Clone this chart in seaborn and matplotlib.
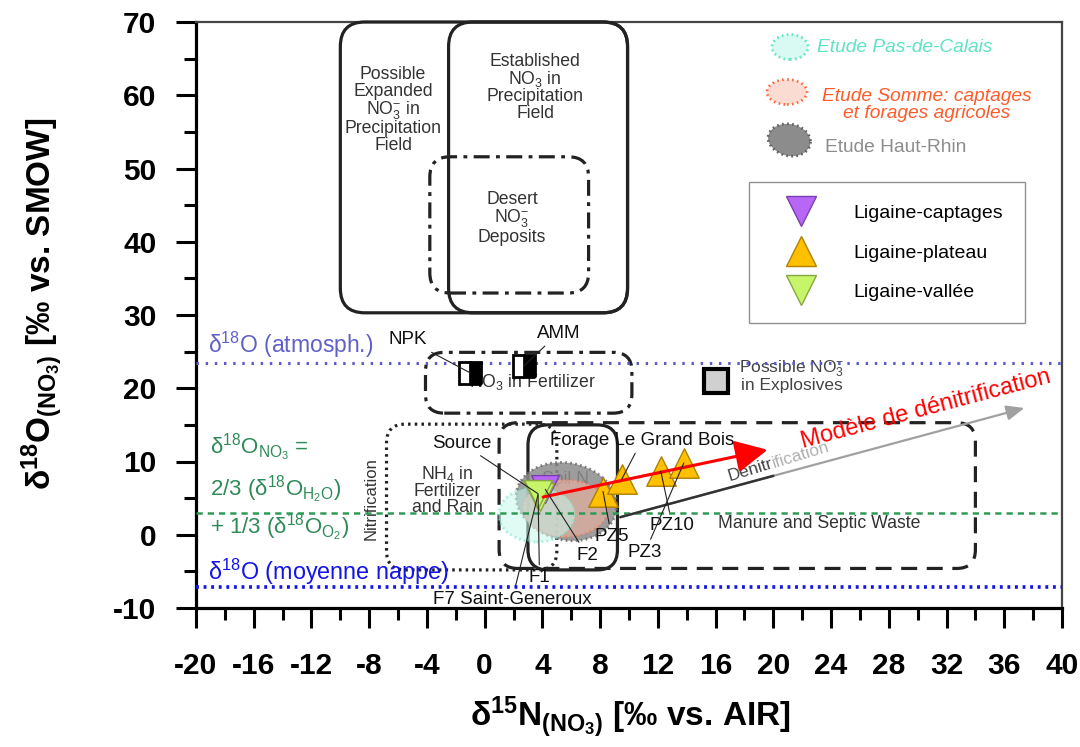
import numpy as np
import pandas as pd
import seaborn as sns
import matplotlib as mpl
import matplotlib.pyplot as plt
from matplotlib.patches import FancyBboxPatch, Ellipse, Polygon
from matplotlib.lines import Line2D
from matplotlib.ticker import MultipleLocator

# ------------------------------------------------------------------ data
captages_x = [4.2]
captages_y = [6.2]
vallee_x = [3.6, 3.8, 3.7]
vallee_y = [5.6, 5.2, 5.5]
plateau_x = [8.2, 9.5, 12.2, 13.8]
plateau_y = [5.9, 7.6, 8.7, 9.8]

fert_names = ["NPK", "AMM"]
fert_x = [-1.0, 2.7]
fert_y = [22.1, 23.0]
explosive_x = [16.0]
explosive_y = [21.0]

atm_o18 = 23.5
nitrif_o18 = 3.0
nappe_o18 = -7.2

# source fields (Kendall diagram)
box_x0 = [-10.0, -2.5, -3.8, -4.1, -6.8, 3.0, 1.0]
box_x1 = [9.9, 9.9, 7.2, 10.2, 5.0, 9.2, 34.0]
box_y0 = [30.3, 30.3, 33.0, 16.6, -4.8, -4.8, -4.6]
box_y1 = [70.0, 70.0, 51.6, 24.9, 15.1, 15.0, 15.3]
box_ls = ["solid", "solid", "dashdot", "dashdot", "dotted", "solid", "dashed"]

# study areas (ellipse-like envelopes)
study_names = ["Etude Pas-de-Calais", "Etude Somme: captages\net forages agricoles", "Etude Haut-Rhin"]
study_cx = [3.6, 5.6, 5.45]
study_cy = [2.75, 3.6, 4.2]
study_w = [5.3, 5.9, 6.9]
study_h = [7.5, 7.8, 10.6]

# denitrification vectors
red_start = (4.05, 5.15)
red_end = (19.6, 11.6)
gray_start = (9.4, 2.4)
gray_end = (37.4, 17.3)

# point labels: text, target, text position
lab_text = ["Source", "F1", "F2", "F7 Saint-Generoux", "PZ5", "Forage Le Grand Bois",
            "PZ10", "PZ3", "NPK", "AMM"]
lab_target = [(3.7, 5.6), (3.7, 5.4), (4.2, 6.2), (3.7, 5.5), (8.2, 5.9), (9.5, 7.6),
              (12.2, 8.7), (13.8, 9.8), (-1.0, 22.1), (2.7, 23.0)]
lab_pos = [(-1.6, 12.5), (3.8, -5.9), (7.1, -2.8), (1.9, -8.9), (8.8, -0.3), (10.9, 12.9),
           (13.0, 1.3), (11.1, -2.4), (-5.3, 26.6), (5.1, 27.5)]

xticks = list(range(-20, 41, 4))
yticks = list(range(-10, 71, 10))

# ------------------------------------------------------------------ style
sns.set_style("white")
plt.rcParams["font.family"] = ["Liberation Sans", "DejaVu Sans"]
plt.rcParams["mathtext.fontset"] = "custom"
plt.rcParams["mathtext.rm"] = "Liberation Sans"
plt.rcParams["mathtext.it"] = "Liberation Sans:italic"
plt.rcParams["mathtext.bf"] = "Liberation Sans:bold"
plt.rcParams["axes.unicode_minus"] = False
for k in ["text.color", "axes.labelcolor", "xtick.color", "ytick.color",
          "xtick.labelcolor", "ytick.labelcolor"]:
    plt.rcParams[k] = "black"

fig = plt.figure(figsize=(10.8, 7.47), dpi=100)
ax = fig.add_axes([196 / 1080, 1 - 608 / 747, 866 / 1080, 586 / 747])
ax.set_xlim(-20, 40)
ax.set_ylim(-10, 70)
ASP = (866 / 60) / (586 / 80)  # px per x-unit / px per y-unit

TXT = "#333333"

# ---- source boxes
dash_map = {"solid": "-", "dashdot": (0, (5, 2, 1.2, 2)), "dotted": (0, (0.8, 1.3)),
            "dashed": (0, (5, 3))}
rounds = [1.7, 1.7, 1.4, 1.3, 1.3, 1.4, 1.3]
for x0, x1, y0, y1, ls, r in zip(box_x0, box_x1, box_y0, box_y1, box_ls, rounds):
    p = FancyBboxPatch((x0, y0), x1 - x0, y1 - y0,
                       boxstyle=f"round,pad=0,rounding_size={r}",
                       mutation_aspect=ASP, fill=False, ec="#222222", lw=2.3,
                       ls=dash_map[ls], zorder=3, clip_on=False)
    ax.add_patch(p)

# ---- box texts
ax.text(-6.35, 58.0, "Possible\nExpanded\nNO$_3^{\\mathregular{-}}$ in\nPrecipitation\nField",
        ha="center", va="center", fontsize=12.7, color=TXT, linespacing=0.95)
ax.text(3.5, 61.1, "Established\nNO$_3$ in\nPrecipitation\nField",
        ha="center", va="center", fontsize=12.7, color=TXT, linespacing=0.95)
ax.text(1.9, 43.2, "Desert\nNO$_3^{\\mathregular{-}}$\nDeposits",
        ha="center", va="center", fontsize=12.7, color=TXT, linespacing=0.95)
ax.text(3.3, 20.8, "NO$_3$ in Fertilizer", ha="center", va="center", fontsize=12.7,
        color=TXT, zorder=2)
ax.text(-2.6, 6.1, "NH$_4$ in\nFertilizer\nand Rain", ha="center", va="center",
        fontsize=12.7, color=TXT, linespacing=0.95)
ax.text(-7.9, 5.0, "Nitrification", rotation=90, ha="center", va="center",
        fontsize=12, color=TXT)
ax.text(23.2, 1.6, "Manure and Septic Waste", ha="center", va="center",
        fontsize=12.7, color=TXT)
ax.text(5.6, 7.6, "Soil N", ha="center", va="center", fontsize=12.7, color=TXT, zorder=1)
ax.text(21.3, 21.7, "Possible NO$_3^{\\mathregular{-}}$\nin Explosives", ha="center", va="center",
        fontsize=12.5, color="#444444", linespacing=0.95)

# ---- study envelopes
def blob(cx, cy, w, h, n=120):
    t = np.linspace(0, 2 * np.pi, n)
    k = 1 + 0.10 * np.cos(t - np.pi / 4) - 0.06 * np.cos(2 * (t - np.pi / 4))
    return np.column_stack([cx + 0.5 * w * k * np.cos(t), cy + 0.5 * h * k * np.sin(t)])

ax.add_patch(Polygon(blob(study_cx[2], study_cy[2], study_w[2], study_h[2]), closed=True,
                     fc="#8c8c8c", ec="#6a6a6a", lw=2, ls=(0, (0.6, 1.2)), alpha=0.85, zorder=4))
ax.add_patch(Ellipse((study_cx[1], study_cy[1]), study_w[1], study_h[1],
                     fc="#f6b3a0", ec="#ff6a45", lw=2, ls=(0, (0.6, 1.2)), alpha=0.55, zorder=5))
ax.add_patch(Ellipse((study_cx[0], study_cy[0]), study_w[0], study_h[0],
                     fc="#c8f7ec", ec="#5de6c6", lw=2, ls=(0, (0.6, 1.2)), alpha=0.55, zorder=5))

# ---- reference lines
ax.axhline(atm_o18, color="#5c5cd0", lw=2.2, ls=(0, (0.8, 2.2)), zorder=6)
ax.axhline(nitrif_o18, color="#2e9b55", lw=1.8, ls=(0, (2.5, 2)), zorder=6)
ax.axhline(nappe_o18, color="#1414e6", lw=2.6, ls=(0, (0.8, 1.3)), zorder=6)

ax.text(-19.2, 25.9, "δ$^{18}$O (atmosph.)", color="#6060c8", fontsize=16.5, va="center")
gcol = "#2e8b57"
ax.text(-19.0, 11.8, "δ$^{18}$O$_{\\mathregular{NO_3}}$ =", color=gcol, fontsize=16, va="center")
ax.text(-19.0, 6.1, "2/3 (δ$^{18}$O$_{\\mathregular{H_2O}}$)", color=gcol, fontsize=16, va="center")
ax.text(-19.0, 0.9, "+ 1/3 (δ$^{18}$O$_{\\mathregular{O_2}}$)", color=gcol, fontsize=16, va="center")
ax.text(-19.2, -5.1, "δ$^{18}$O (moyenne nappe)", color="#1414e6", fontsize=16.8, va="center")

# ---- fertilizer / explosive markers
ax.plot(fert_x, fert_y, ls="", marker="s", ms=16, fillstyle="right", mfc="black",
        markerfacecoloralt="white", mec="black", mew=2, zorder=7)
ax.plot(explosive_x, explosive_y, ls="", marker="s", ms=17, mfc="#d0d0d0", mec="black",
        mew=3, zorder=7)

# ---- denitrification arrows
ax.annotate("", xy=gray_end, xytext=gray_start,
            arrowprops=dict(arrowstyle="-|>,head_length=0.6,head_width=0.25", color="#a0a0a0",
                            lw=1.6, shrinkA=0, shrinkB=0, mutation_scale=18), zorder=6)
ax.plot([gray_start[0], 20.0], [gray_start[1], gray_start[1] + (20.0 - gray_start[0]) *
        (gray_end[1] - gray_start[1]) / (gray_end[0] - gray_start[0])], color="#333333",
        lw=1.8, zorder=6)
ax.text(18.4, 8.85, "Denitr", rotation=17, rotation_mode="anchor", ha="center",
        va="center", fontsize=12.5, color="#444444", zorder=6)
ax.text(21.88, 10.95, "ification", rotation=17, rotation_mode="anchor", ha="center",
        va="center", fontsize=12.5, color="#b0b0b0", zorder=6)

# ---- samples (seaborn)
df_c = pd.DataFrame({"x": captages_x, "y": captages_y})
df_v = pd.DataFrame({"x": vallee_x, "y": vallee_y})
df_p = pd.DataFrame({"x": plateau_x, "y": plateau_y})
sns.scatterplot(data=df_c, x="x", y="y", marker="v", s=400, color="#b866f5",
                edgecolor="#7a40b0", linewidth=1, ax=ax, zorder=8, legend=False)
sns.scatterplot(data=df_v, x="x", y="y", marker="v", s=400, color="#c6f56a",
                edgecolor="#8aa640", linewidth=1, ax=ax, zorder=9, legend=False)
sns.scatterplot(data=df_p, x="x", y="y", marker="^", s=450, color="#ffc000",
                edgecolor="#b08000", linewidth=1, ax=ax, zorder=8, legend=False)

ax.annotate("", xy=red_end, xytext=red_start,
            arrowprops=dict(arrowstyle="-|>,head_length=0.9,head_width=0.45", color="#ff0000",
                            lw=2.2, shrinkA=0, shrinkB=0, mutation_scale=22), zorder=10)
ax.text(30.6, 17.1, "Modèle de dénitrification", rotation=14.8, rotation_mode="anchor",
        ha="center", va="center", fontsize=17, color="#ff0000", zorder=10)

for t, tgt, pos in zip(lab_text, lab_target, lab_pos):
    ax.annotate(t, xy=tgt, xytext=pos, ha="center", va="center", fontsize=13.5,
                color="#111111", zorder=11,
                arrowprops=dict(arrowstyle="-", color="#222222", lw=0.8, shrinkA=1, shrinkB=0))

# ---- study legend (top right)
def to_ax(px, py):
    return ((px - 196) / 866, (608 - py) / 586)

tr = ax.transAxes
cx, cy = to_ax(790, 47)
ax.add_patch(Ellipse((cx, cy), 36 / 866, 25 / 586, transform=tr, fc="#d8faf2",
                     ec="#5de6c6", lw=2, ls=(0, (0.6, 1.2)), clip_on=False, zorder=6))
x_, y_ = to_ax(817, 48)
ax.text(x_, y_, study_names[0], transform=tr, color="#5ee3c5", fontsize=13.8, style="italic",
        va="center")
cx, cy = to_ax(787, 92)
ax.add_patch(Ellipse((cx, cy), 40 / 866, 25 / 586, transform=tr, fc="#fbdcd2",
                     ec="#ff6a45", lw=2, ls=(0, (0.6, 1.2)), clip_on=False, zorder=6))
x_, y_ = to_ax(927, 105)
ax.text(x_, y_, study_names[1], transform=tr, color="#ff5a2a", fontsize=13.8, style="italic",
        va="center", ha="center", linespacing=1.05)
cx, cy = to_ax(788, 141)
icon = blob(cx, cy, 42 / 866, 32 / 586)
ax.add_patch(Polygon(icon, closed=True, transform=tr, fc="#8c8c8c", ec="#606060", lw=2,
                     ls=(0, (0.6, 1.2)), clip_on=False, zorder=6))
x_, y_ = to_ax(825, 147)
ax.text(x_, y_, study_names[2], transform=tr, color="#8c8c8c", fontsize=13.8, va="center")

handles = [
    Line2D([], [], ls="", marker="v", ms=22, mfc="#b866f5", mec="#7a40b0", label="Ligaine-captages"),
    Line2D([], [], ls="", marker="^", ms=22, mfc="#ffc000", mec="#b08000", label="Ligaine-plateau"),
    Line2D([], [], ls="", marker="v", ms=22, mfc="#c6f56a", mec="#8aa640", label="Ligaine-vallée"),
]
lx, ly = to_ax(749, 182)
leg = ax.legend(handles=handles, loc="upper left", bbox_to_anchor=(lx, ly), frameon=True,
                fancybox=False, edgecolor="#777777", fontsize=14, borderpad=1.15,
                labelspacing=1.13, handletextpad=1.15, handlelength=3.06, borderaxespad=0)
leg.get_frame().set_linewidth(1.0)

# ---- axes styling
ax.xaxis.set_major_locator(MultipleLocator(4))
ax.xaxis.set_minor_locator(MultipleLocator(2))
ax.yaxis.set_major_locator(MultipleLocator(10))
ax.yaxis.set_minor_locator(MultipleLocator(5))
ax.set_xticks(xticks)
ax.set_yticks(yticks)
ax.tick_params(which="major", direction="out", length=14.5, width=2.2, labelsize=21.5,
               color="black", labelcolor="black")
ax.tick_params(which="minor", direction="out", length=8.5, width=2.2, color="black")
ax.tick_params(axis="x", which="major", pad=17)
ax.tick_params(axis="y", which="major", pad=14)
ax.tick_params(axis="both", which="both", bottom=True, left=True, top=False, right=False)
for lab in ax.get_xticklabels() + ax.get_yticklabels():
    lab.set_fontweight("bold")
for s in ["left", "bottom"]:
    ax.spines[s].set_linewidth(2.3)
    ax.spines[s].set_color("black")
for s in ["top", "right"]:
    ax.spines[s].set_linewidth(1.6)
    ax.spines[s].set_color("#444444")

ax.set_xlabel("δ$^{\\mathbf{15}}$N$_{\\mathbf{(NO_3)}}$ [‰ vs. AIR]", fontsize=24,
              fontweight="bold", color="black")
ax.set_ylabel("δ$^{\\mathbf{18}}$O$_{\\mathbf{(NO_3)}}$ [‰ vs. SMOW]", fontsize=24,
              fontweight="bold", color="black")
ax.xaxis.set_label_coords(0.501, -0.148)
ax.yaxis.set_label_coords(-0.151, 0.52)

fig.savefig("out.png", dpi=100)
